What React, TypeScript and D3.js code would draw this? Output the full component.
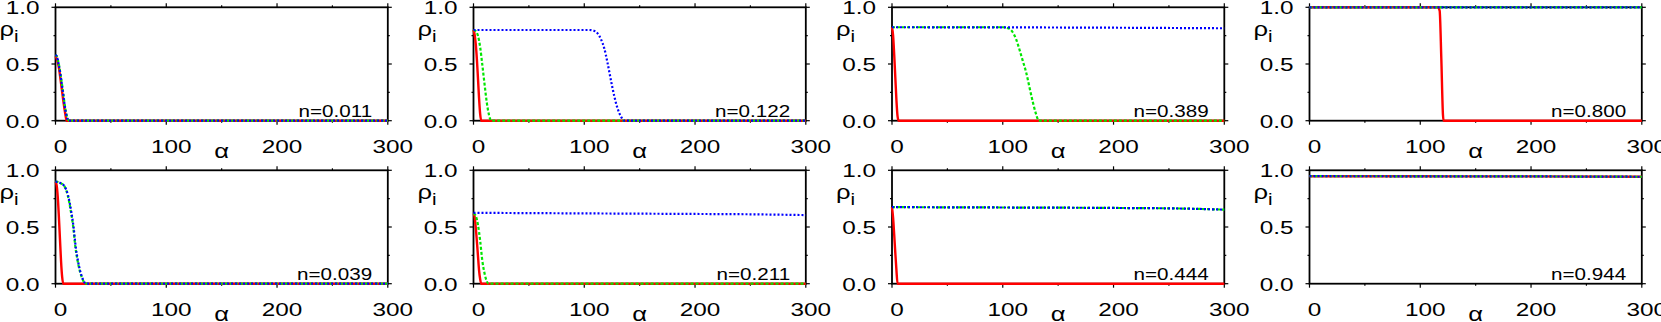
import React from 'react';
import * as d3 from 'd3';

type Pt = [number, number];

// tick values
const xTicks = [0, 100, 200, 300];
const xMinor = [50, 150, 250];
const yTicks = [0, 0.5, 1.0];
const yMinor = [0.25, 0.75];

// labels for each panel, top row then bottom row
const nLabels = ['n=0.011', 'n=0.122', 'n=0.389', 'n=0.800', 'n=0.039', 'n=0.211', 'n=0.444', 'n=0.944'];

// rho_i(alpha), [alpha, rho]
const n011Red: Pt[] = [[0, 0.57], [1, 0.55], [3, 0.47], [5, 0.33], [7, 0.18], [9, 0.05], [10, 0], [300, 0]];
const n011Green: Pt[] = [[0, 0.58], [1, 0.57], [3, 0.5], [5, 0.38], [7, 0.24], [9, 0.1], [11, 0.02], [12, 0], [300, 0]];
const n011Blue: Pt[] = [[0, 0.58], [1, 0.57], [3, 0.49], [5, 0.37], [7, 0.23], [9, 0.09], [11, 0.01], [12, 0], [300, 0]];

const n122Red: Pt[] = [[0, 0.8], [1, 0.76], [2, 0.68], [3, 0.55], [4, 0.38], [5, 0.2], [6, 0.06], [7, 0], [300, 0]];
const n122Green: Pt[] = [[0, 0.8], [2, 0.79], [4, 0.75], [6, 0.65], [8, 0.49], [10, 0.32], [12, 0.16], [14, 0.05], [16, 0], [300, 0]];
const n122Blue: Pt[] = [[0, 0.8], [104, 0.8], [108, 0.795], [112, 0.77], [115, 0.72], [118, 0.64], [121, 0.51], [124, 0.36], [127, 0.22], [130, 0.11], [133, 0.04], [136, 0], [300, 0]];

const n389Red: Pt[] = [[0, 0.824], [1, 0.75], [2, 0.58], [3, 0.38], [4, 0.18], [5, 0.04], [6, 0], [300, 0]];
const n389Green: Pt[] = [[0, 0.824], [100, 0.824], [105, 0.815], [109, 0.78], [112, 0.72], [115, 0.63], [118, 0.53], [121, 0.43], [124, 0.3], [127, 0.17], [130, 0.06], [132.5, 0], [300, 0]];
const n389Blue: Pt[] = [[0, 0.824], [100, 0.823], [200, 0.82], [300, 0.815]];

const n800Red: Pt[] = [[0, 1], [116, 1], [117.5, 0.97], [119, 0.55], [120.5, 0.05], [121, 0], [300, 0]];
const n800Green: Pt[] = [[0, 1], [300, 1]];
const n800Blue: Pt[] = [[0, 1], [300, 1]];

const n039Red: Pt[] = [[0, 0.9], [1, 0.87], [2, 0.77], [3, 0.6], [4, 0.4], [5, 0.2], [6, 0.06], [7, 0], [300, 0]];
const n039Green: Pt[] = [[0, 0.9], [4, 0.89], [8, 0.86], [11, 0.78], [14, 0.63], [16, 0.5], [18, 0.32], [20, 0.2], [22, 0.11], [24, 0.05], [26, 0.01], [28, 0], [300, 0]];
const n039Blue: Pt[] = [[0, 0.9], [4, 0.89], [8, 0.86], [11.3, 0.78], [14.3, 0.63], [16.3, 0.5], [18.3, 0.32], [20.3, 0.2], [22.3, 0.11], [24.3, 0.05], [26.3, 0.01], [28.3, 0], [300, 0]];

const n211Red: Pt[] = [[0, 0.62], [1, 0.59], [2, 0.5], [3, 0.38], [4, 0.25], [5, 0.12], [6, 0.04], [7, 0], [300, 0]];
const n211Green: Pt[] = [[0, 0.62], [2, 0.6], [4, 0.52], [6, 0.38], [8, 0.2], [10, 0.09], [12, 0.02], [13.5, 0], [300, 0]];
const n211Blue: Pt[] = [[0, 0.625], [100, 0.62], [200, 0.615], [250, 0.612], [300, 0.605]];

const n444Red: Pt[] = [[0, 0.675], [1, 0.58], [2, 0.43], [3, 0.27], [4, 0.12], [5, 0], [300, 0]];
const n444Green: Pt[] = [[0, 0.675], [100, 0.672], [200, 0.668], [260, 0.663], [300, 0.653]];
const n444Blue: Pt[] = [[0, 0.675], [100, 0.672], [200, 0.668], [260, 0.663], [300, 0.653]];

const n944Red: Pt[] = [[0, 0.948], [100, 0.947], [200, 0.946], [300, 0.943]];
const n944Green: Pt[] = [[0, 0.948], [100, 0.947], [200, 0.946], [300, 0.943]];
const n944Blue: Pt[] = [[0, 0.948], [100, 0.947], [200, 0.946], [300, 0.943]];

const panels = [
  { label: nLabels[0], red: n011Red, green: n011Green, blue: n011Blue },
  { label: nLabels[1], red: n122Red, green: n122Green, blue: n122Blue },
  { label: nLabels[2], red: n389Red, green: n389Green, blue: n389Blue },
  { label: nLabels[3], red: n800Red, green: n800Green, blue: n800Blue },
  { label: nLabels[4], red: n039Red, green: n039Green, blue: n039Blue },
  { label: nLabels[5], red: n211Red, green: n211Green, blue: n211Blue },
  { label: nLabels[6], red: n444Red, green: n444Green, blue: n444Blue },
  { label: nLabels[7], red: n944Red, green: n944Green, blue: n944Blue },
];

const W = 1661;
const H = 322;
const colX = [55.5, 473.5, 892, 1309.5];
const rowY = [7.3, 170.3];
const PW = 332.3;
const PH = 113.4;
const FONT = '"Liberation Sans", Arial, Helvetica, sans-serif';
const SX = 1.28; // the figure's text is stretched sideways

const Txt: React.FC<{ x: number; y: number; anchor?: string; size: number; sx?: number; children: React.ReactNode }> = ({ x, y, anchor = 'start', size, sx = SX, children }) => (
  <text transform={`translate(${x},${y}) scale(${sx},1)`} textAnchor={anchor} fontSize={size} fontFamily={FONT} fill="#000">
    {children}
  </text>
);

const Panel: React.FC<{ idx: number }> = ({ idx }) => {
  const p = panels[idx];
  const left = colX[idx % 4];
  const top = rowY[Math.floor(idx / 4)];
  const x = d3.scaleLinear().domain([0, 300]).range([left, left + PW]);
  const y = d3.scaleLinear().domain([0, 1]).range([top + PH, top]);
  const line = d3.line<Pt>().x(d => x(d[0])).y(d => y(d[1])).curve(d3.curveMonotoneX);
  const bottom = top + PH;
  const right = left + PW;

  return (
    <g>
      {/* outward ticks on all four sides */}
      {xTicks.map(v => (
        <g key={'xt' + v} stroke="#000" strokeWidth={1.2}>
          <line x1={x(v)} x2={x(v)} y1={bottom} y2={bottom + 4} />
          <line x1={x(v)} x2={x(v)} y1={top} y2={top - 4} />
        </g>
      ))}
      {xMinor.map(v => (
        <g key={'xm' + v} stroke="#000" strokeWidth={1.2}>
          <line x1={x(v)} x2={x(v)} y1={bottom} y2={bottom + 2} />
          <line x1={x(v)} x2={x(v)} y1={top} y2={top - 2} />
        </g>
      ))}
      {yTicks.map(v => (
        <g key={'yt' + v} stroke="#000" strokeWidth={1.2}>
          <line x1={left} x2={left - 4} y1={y(v)} y2={y(v)} />
          <line x1={right} x2={right + 4} y1={y(v)} y2={y(v)} />
        </g>
      ))}
      {yMinor.map(v => (
        <g key={'ym' + v} stroke="#000" strokeWidth={1.2}>
          <line x1={left} x2={left - 2} y1={y(v)} y2={y(v)} />
          <line x1={right} x2={right + 2} y1={y(v)} y2={y(v)} />
        </g>
      ))}
      <rect x={left} y={top} width={PW} height={PH} fill="none" stroke="#000" strokeWidth={1.8} />

      <path d={line(p.red) || ''} fill="none" stroke="#ff0000" strokeWidth={2.4} />
      <path d={line(p.green) || ''} fill="none" stroke="#00e600" strokeWidth={2.2} strokeDasharray="3,2" />
      <path d={line(p.blue) || ''} fill="none" stroke="#0000ff" strokeWidth={2.2} strokeDasharray="2,2" />

      {xTicks.map(v => (
        <Txt key={'xl' + v} x={x(v) + 5} y={bottom + 32.3} anchor="middle" size={19}>{String(v)}</Txt>
      ))}
      {yTicks.map(v => (
        <Txt key={'yl' + v} x={left - 16} y={y(v) + 6.8} anchor="end" size={19}>{d3.format('.1f')(v)}</Txt>
      ))}
      <Txt x={x(150)} y={bottom + 37.5} anchor="middle" size={20}>α</Txt>
      <Txt x={left - 56} y={top + 28.5} size={20}>
        ρ<tspan fontSize={16} dy={6}>i</tspan>
      </Txt>
      <Txt x={right - 15.7} y={bottom - 4} anchor="end" size={16.5} sx={1.25}>{p.label}</Txt>
    </g>
  );
};

export default function App() {
  return (
    <svg width={W} height={H} viewBox={`0 0 ${W} ${H}`} style={{ position: 'absolute', left: 0, top: 0, background: '#fff' }}>
      <rect width={W} height={H} fill="#fff" />
      {panels.map((_, i) => <Panel key={i} idx={i} />)}
    </svg>
  );
}
